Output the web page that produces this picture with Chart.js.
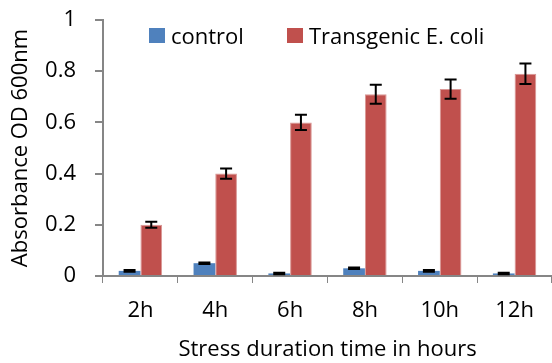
<!DOCTYPE html>
<html>
<head>
<meta charset="utf-8">
<script src="https://cdn.jsdelivr.net/npm/chart.js@4"></script>
<style>
  html, body { margin: 0; padding: 0; background: #fff; }
  #wrap { position: relative; width: 552px; height: 363px; }
  #legend { position: absolute; top: 20px; left: 149px; display: flex; font: 22px "Open Sans", sans-serif; color: #000; }
  .item { display: flex; align-items: center; margin-right: 43px; }
  .box { width: 16px; height: 15px; margin-right: 6px; }
</style>
</head>
<body>
<div id="wrap">
  <canvas id="chart" width="552" height="363"></canvas>
  <div id="legend"></div>
</div>
<script>
// --- 데이터 ---
const hours = ['2h', '4h', '6h', '8h', '10h', '12h'];
const controlVals = [0.02, 0.05, 0.01, 0.03, 0.02, 0.01];
const controlErr = [0.003, 0.003, 0.003, 0.003, 0.003, 0.003];
const transgenicVals = [0.20, 0.40, 0.60, 0.71, 0.73, 0.79];
const transgenicErr = [0.012, 0.02, 0.03, 0.037, 0.038, 0.04];
const seriesNames = ['control', 'Transgenic E. coli'];
const seriesColors = ['#4F81BD', '#C0504D'];
const yTicks = [0, 0.2, 0.4, 0.6, 0.8, 1];

const FONT = '"Open Sans", sans-serif';

// --- 범례 (HTML) ---
const legendEl = document.getElementById('legend');
seriesNames.forEach((name, i) => {
    const item = document.createElement('div');
    item.className = 'item';
    item.innerHTML = `<span class="box" style="background:${seriesColors[i]}"></span><span>${name}</span>`;
    legendEl.appendChild(item);
});

// --- 오차 막대 플러그인 ---
const errorBars = {
    id: 'errorBars',
    afterDatasetsDraw(chart) {
        const ctx = chart.ctx;
        const yScale = chart.scales.y;
        const errs = [controlErr, transgenicErr];
        chart.data.datasets.forEach((ds, di) => {
            const meta = chart.getDatasetMeta(di);
            meta.data.forEach((bar, i) => {
                const v = ds.data[i];
                const e = errs[di][i];
                const yTop = yScale.getPixelForValue(v + e);
                const yBot = yScale.getPixelForValue(v - e);
                const x = bar.x;
                ctx.save();
                ctx.strokeStyle = '#000';
                ctx.lineWidth = 2;
                ctx.beginPath();
                ctx.moveTo(x, yTop); ctx.lineTo(x, yBot);
                ctx.moveTo(x - 6, yTop); ctx.lineTo(x + 6, yTop);
                ctx.moveTo(x - 6, yBot); ctx.lineTo(x + 6, yBot);
                ctx.stroke();
                ctx.restore();
            });
        });
    }
};

new Chart(document.getElementById('chart'), {
    type: 'bar',
    data: {
        labels: hours,
        datasets: [
            { label: seriesNames[0], data: controlVals, backgroundColor: seriesColors[0], borderWidth: 0 },
            { label: seriesNames[1], data: transgenicVals, backgroundColor: seriesColors[1], borderColor: '#D99795', borderWidth: 1 }
        ]
    },
    options: {
        responsive: false,
        animation: false,
        layout: { padding: { top: 20, right: 0, bottom: 0, left: 0 } },
        plugins: { legend: { display: false }, tooltip: { enabled: false } },
        datasets: { bar: { categoryPercentage: 0.58, barPercentage: 1 } },
        scales: {
            x: {
                grid: { display: true, drawOnChartArea: false, offset: true, tickLength: 7, color: '#868686', lineWidth: 1 },
                border: { color: '#868686', width: 2 },
                ticks: { color: '#000', font: { family: FONT, size: 22 }, padding: 15 },
                title: { display: true, text: 'Stress duration time in hours', color: '#000', font: { family: FONT, size: 22 }, padding: { top: 4, bottom: 0 } },
                afterFit(scale) { scale.height = 87; scale.paddingLeft = 0; scale.paddingRight = 0; }
            },
            y: {
                min: 0, max: 1,
                afterBuildTicks(scale) { scale.ticks = yTicks.map(v => ({ value: v })); },
                grid: { display: true, drawOnChartArea: false, tickLength: 8, color: '#868686', lineWidth: 2 },
                border: { color: '#868686', width: 2 },
                ticks: { color: '#000', font: { family: FONT, size: 22 }, padding: 19, callback: v => String(v) },
                title: { display: true, text: 'Absorbance OD 600nm', color: '#000', font: { family: FONT, size: 22 }, padding: { top: 8, bottom: 0 } },
                afterFit(scale) { scale.width = 103; scale.paddingTop = 0; scale.paddingBottom = 0; }
            }
        }
    },
    plugins: [errorBars]
});
</script>
</body>
</html>
